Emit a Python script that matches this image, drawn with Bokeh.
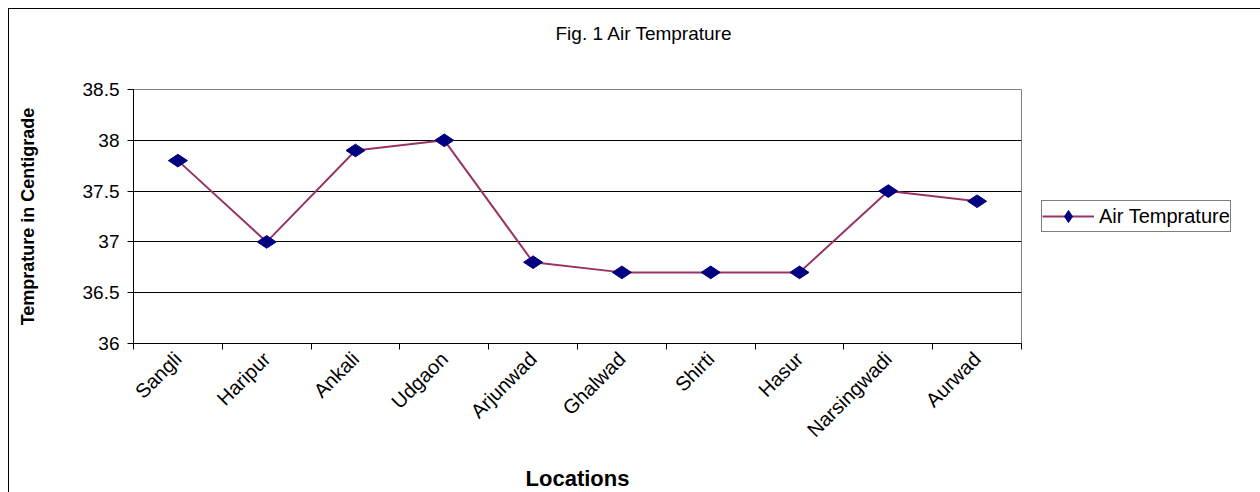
import math
from bokeh.plotting import figure
from bokeh.models import (FixedTicker, Range1d, Legend, LegendItem, Title,
                          ColumnDataSource)
from bokeh.embed import file_html
from bokeh.resources import INLINE

# ---- data ----
locations = ["Sangli", "Haripur", "Ankali", "Udgaon", "Arjunwad",
             "Ghalwad", "Shirti", "Hasur", "Narsingwadi", "Aurwad"]
air_temp = [37.8, 37.0, 37.9, 38.0, 36.8, 36.7, 36.7, 36.7, 37.5, 37.4]
y_ticks = [36, 36.5, 37, 37.5, 38, 38.5]
y_tick_labels = ["36", "36.5", "37", "37.5", "38", "38.5"]
title_text = "Fig. 1 Air Temprature"
series_name = "Air Temprature"
x_title = "Locations"
y_title = "Temprature in Centigrade"

FONT = "Liberation Sans"
n = len(locations)
centers = [i + 0.5 for i in range(n)]
bounds = [float(i) for i in range(n + 1)]

src = ColumnDataSource(dict(x=centers, y=air_temp, name=locations))

p = figure(frame_width=888, frame_height=254, output_backend="svg", toolbar_location=None,
           x_range=Range1d(0, n), y_range=Range1d(y_ticks[0], y_ticks[-1]),
           min_border_left=124, min_border_right=239,
           min_border_top=80, min_border_bottom=148)
p.styles = {"margin-left": "8px", "margin-top": "8px",
            "border-left": "1px solid #000000", "border-top": "1px solid #000000"}

p.background_fill_color = "white"
p.border_fill_color = "white"
p.outline_line_color = "#808080"
p.outline_line_width = 1

# real chart title (outermost in the "above" panel)
p.title.text = title_text
p.title.align = "left"
p.title.offset = 422
p.title.standoff = 0
p.title.text_font = FONT
p.title.text_font_size = "19px"
p.title.text_font_style = "normal"
p.title.text_color = "#000000"

# blank spacer between the frame and the title
p.add_layout(Title(text=" ", text_font=FONT, text_font_size="19px", standoff=23),
             "above")

# grid
p.xgrid.grid_line_color = None
p.ygrid.grid_line_color = "#000000"
p.ygrid.grid_line_width = 1

# x axis
xa = p.xaxis[0]
xa.ticker = FixedTicker(ticks=centers, minor_ticks=bounds)
xa.major_label_overrides = {c: name for c, name in zip(centers, locations)}
xa.major_tick_line_color = None
xa.minor_tick_line_color = "#000000"
xa.minor_tick_in = 0
xa.minor_tick_out = 6
xa.axis_line_color = "#000000"
xa.major_label_orientation = math.pi / 4
xa.major_label_text_font = FONT
xa.major_label_text_font_size = "20px"
xa.major_label_text_color = "#000000"
xa.major_label_standoff = 6
xa.axis_label = x_title
xa.axis_label_text_font = FONT
xa.axis_label_text_font_style = "bold"
xa.axis_label_text_font_size = "22px"
xa.axis_label_text_color = "#000000"
xa.axis_label_standoff = 14

# y axis
ya = p.yaxis[0]
ya.ticker = FixedTicker(ticks=y_ticks)
ya.major_label_overrides = {t: l for t, l in zip(y_ticks, y_tick_labels)}
ya.major_tick_in = 0
ya.major_tick_out = 6
ya.minor_tick_line_color = None
ya.major_tick_line_color = "#000000"
ya.axis_line_color = "#000000"
ya.major_label_text_font = FONT
ya.major_label_text_font_size = "19px"
ya.major_label_text_color = "#000000"
ya.major_label_standoff = 8
ya.axis_label = y_title
ya.axis_label_text_font = FONT
ya.axis_label_text_font_style = "bold"
ya.axis_label_text_font_size = "18px"
ya.axis_label_text_color = "#000000"
ya.axis_label_standoff = 42

# series
ln = p.line("x", "y", source=src, line_color="#993366", line_width=2)
mk = p.scatter("x", "y", source=src, marker="diamond", angle=math.pi / 2,
               size=19, fill_color="#000080", line_color="#000080")

legend = Legend(items=[LegendItem(label=series_name, renderers=[ln, mk])],
                location="center_left", margin=20, padding=0, spacing=0,
                glyph_width=52, glyph_height=30, label_standoff=5,
                label_text_font=FONT, label_text_font_size="20px",
                label_text_color="#000000",
                border_line_color="#000000", border_line_width=1,
                background_fill_color="white")
p.add_layout(legend, "right")

open("out.html", "w").write(file_html(p, INLINE))
